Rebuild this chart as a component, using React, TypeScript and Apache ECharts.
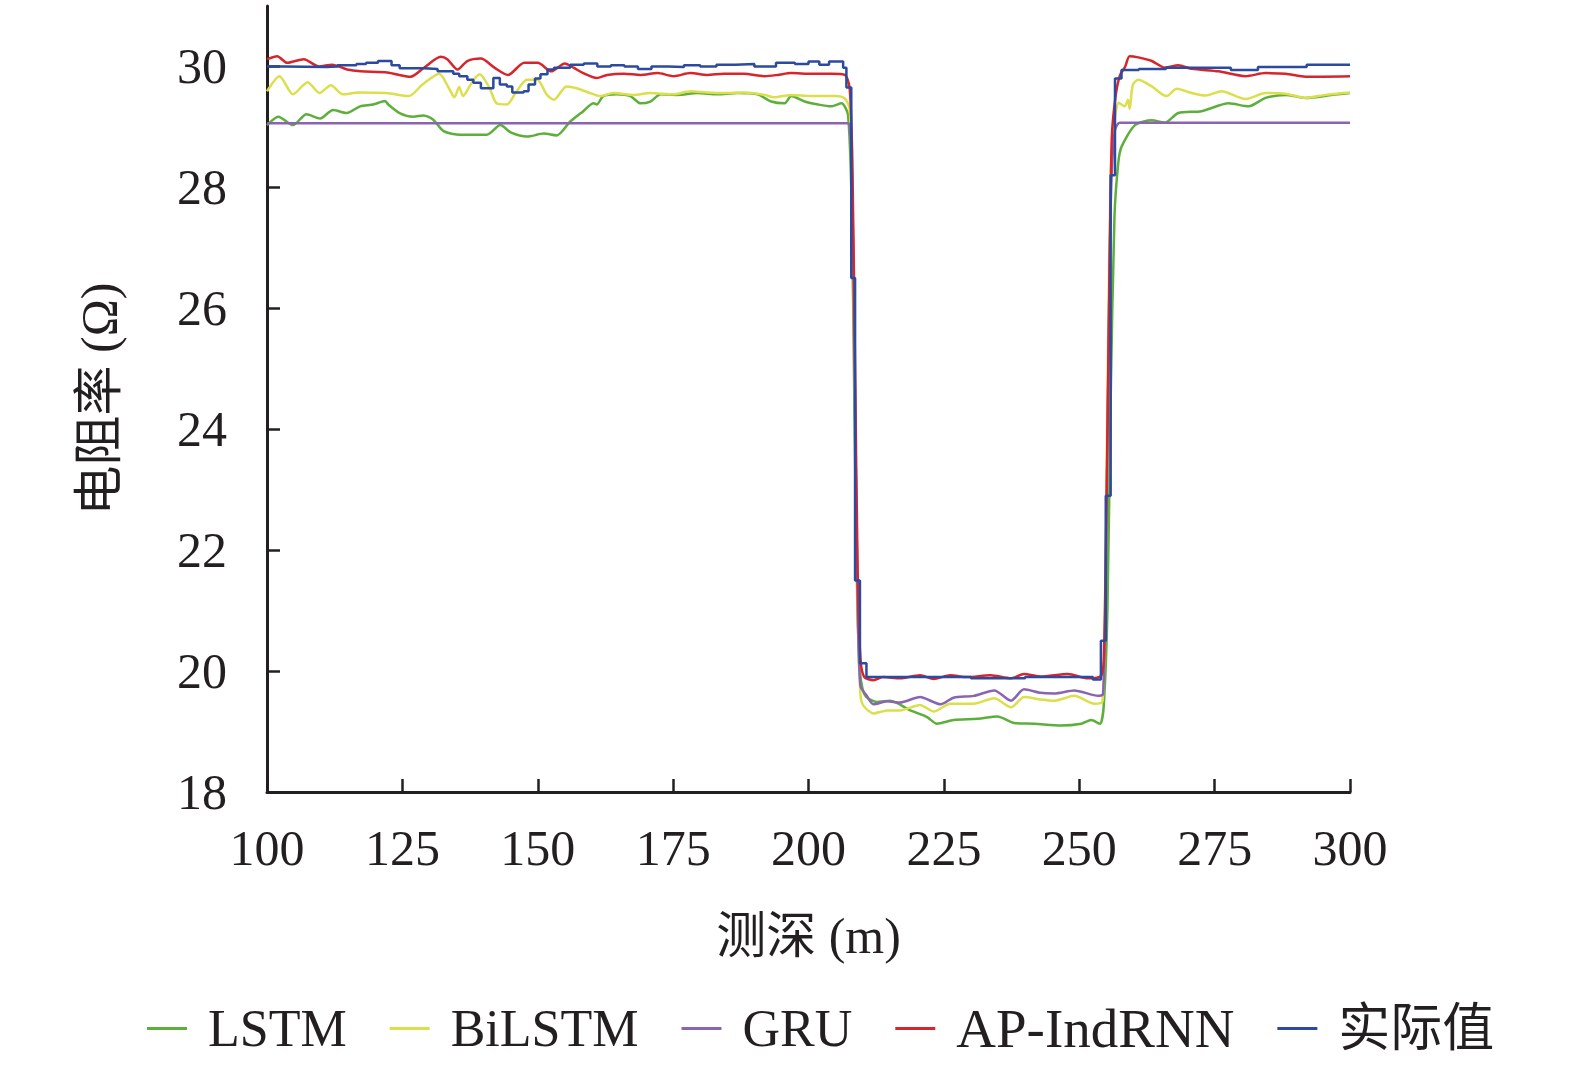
import React, { useEffect, useRef } from "react";
import * as echarts from "echarts";

const xTicks = [100, 125, 150, 175, 200, 225, 250, 275, 300];
const yTicks = [18, 20, 22, 24, 26, 28, 30];

const lstmDepth = [100, 102.1, 104.8, 107.3, 109.8, 112.2, 114.7, 117.2, 119.6, 121.8, 122.4, 124.5, 127, 128.9, 130.7, 132.6, 135.7, 140.6, 143.1, 145, 148, 151.1, 153.5, 156, 158.4, 160.3, 160.9, 162.1, 164.6, 167.1, 169, 170.8, 172.7, 175.8, 179.5, 183.2, 186.9, 190.6, 193.1, 195.6, 196.8, 199.3, 201.8, 204.2, 206.1, 207.3, 208.0, 208.5, 209.0, 209.5, 210.0, 210.7, 212.6, 215.1, 218.8, 221.9, 223.7, 226.8, 231.2, 234.9, 238, 241.7, 246.6, 250.4, 252.2, 253.8, 254.5, 255.2, 255.8, 256.5, 257.2, 257.8, 260.3, 263.4, 265.8, 268.3, 272.6, 277.6, 281.3, 284.4, 288.1, 291.8, 296.8, 300];
const lstmValue = [29.03, 29.17, 29.03, 29.21, 29.14, 29.28, 29.23, 29.34, 29.37, 29.43, 29.37, 29.23, 29.17, 29.19, 29.12, 28.93, 28.87, 28.87, 29.03, 28.91, 28.84, 28.89, 28.86, 29.09, 29.26, 29.39, 29.37, 29.51, 29.54, 29.51, 29.39, 29.42, 29.54, 29.53, 29.56, 29.54, 29.56, 29.54, 29.42, 29.39, 29.51, 29.42, 29.37, 29.34, 29.39, 29.2, 27.6, 24.2, 21.2, 20.0, 19.7, 19.57, 19.49, 19.51, 19.35, 19.24, 19.13, 19.19, 19.21, 19.25, 19.14, 19.13, 19.1, 19.13, 19.19, 19.13, 19.4, 21.0, 24.5, 27.5, 28.4, 28.67, 29.03, 29.11, 29.07, 29.23, 29.26, 29.39, 29.34, 29.48, 29.53, 29.48, 29.53, 29.56];

const bilstmDepth = [100, 102.3, 104.8, 107.5, 109.7, 111.8, 114, 117, 122, 126.2, 128.7, 131.8, 133.6, 134.6, 135.5, 136.2, 138, 139.3, 141.1, 142.4, 144.3, 146.1, 148, 149.9, 151.7, 153, 155.3, 157.2, 159.7, 161.5, 164, 167.7, 170.8, 175.1, 178.2, 181.3, 184.4, 188.1, 191.9, 193.7, 196.8, 200.5, 204.9, 206.7, 207.6, 208.1, 208.6, 209.1, 209.6, 210.2, 212, 214.5, 216.9, 220.6, 223.1, 226.2, 230.5, 234.3, 237.4, 239.8, 242.9, 245.4, 249.1, 252.8, 254.3, 254.8, 255.3, 255.8, 256.5, 257.3, 258.4, 259.0, 259.3, 259.9, 260.9, 263.4, 266.1, 268, 270.8, 273.3, 276.3, 280.7, 284.4, 288.1, 291.8, 295.5, 300];
const bilstmValue = [29.59, 29.84, 29.54, 29.74, 29.56, 29.69, 29.54, 29.57, 29.56, 29.51, 29.7, 29.88, 29.64, 29.49, 29.66, 29.51, 29.76, 29.87, 29.64, 29.39, 29.37, 29.59, 29.78, 29.78, 29.53, 29.45, 29.67, 29.64, 29.56, 29.51, 29.56, 29.53, 29.56, 29.54, 29.59, 29.57, 29.56, 29.57, 29.53, 29.49, 29.53, 29.51, 29.51, 29.47, 29.3, 27.9, 24.4, 20.9, 19.6, 19.42, 19.3, 19.35, 19.35, 19.44, 19.33, 19.46, 19.46, 19.55, 19.4, 19.57, 19.53, 19.51, 19.59, 19.46, 19.5, 21.5, 25.2, 28.2, 29.1, 29.4, 29.34, 29.45, 29.3, 29.7, 29.78, 29.67, 29.51, 29.63, 29.56, 29.52, 29.59, 29.46, 29.56, 29.55, 29.48, 29.53, 29.57];

const gruDepth = [100, 207.3, 207.7, 208.1, 208.6, 209.1, 209.6, 210.7, 212, 214.5, 216.9, 220.6, 224.4, 226.8, 230.5, 234.3, 237.4, 239.8, 242.9, 245.4, 249.1, 253.5, 254.4, 254.9, 255.4, 255.9, 256.6, 257.5, 300];
const gruValue = [29.06, 29.06, 28.9, 27.9, 24.4, 21.0, 19.75, 19.6, 19.45, 19.5, 19.48, 19.57, 19.45, 19.56, 19.59, 19.68, 19.51, 19.7, 19.64, 19.63, 19.68, 19.59, 19.62, 21.6, 25.2, 28.0, 28.95, 29.07, 29.07];

const apDepth = [100, 101.9, 103.7, 106.8, 109.6, 112, 114.8, 117.3, 122.2, 126.5, 129, 132.1, 133.3, 135.2, 137, 139.5, 142, 144.5, 147.5, 150, 152.5, 155, 156.6, 158.4, 160.9, 162.8, 165.9, 169, 172.1, 175.1, 178.2, 181.3, 184.4, 188.1, 191.9, 194.3, 196.8, 200.5, 204.2, 206.7, 207.6, 208.1, 208.6, 209.1, 209.6, 210.3, 212, 213.8, 216.9, 220.6, 223.1, 226.2, 229.3, 233.6, 237.4, 239.8, 242.9, 247.9, 251.6, 254.1, 254.6, 255.0, 255.5, 256.0, 256.7, 257.5, 258.5, 259.3, 260.9, 263.4, 265.8, 268.3, 270.8, 275.7, 280.7, 284.4, 288.1, 291.8, 300];
const apValue = [30.12, 30.17, 30.06, 30.12, 30.0, 30.03, 29.95, 29.92, 29.9, 29.83, 29.98, 30.16, 30.12, 29.95, 30.09, 30.13, 29.98, 29.86, 30.06, 30.06, 29.92, 30.05, 29.98, 29.89, 29.81, 29.86, 29.88, 29.86, 29.89, 29.84, 29.89, 29.86, 29.88, 29.88, 29.84, 29.86, 29.89, 29.88, 29.88, 29.86, 29.64, 28.4, 25.0, 21.5, 20.2, 19.9, 19.85, 19.9, 19.88, 19.93, 19.87, 19.93, 19.9, 19.93, 19.88, 19.95, 19.91, 19.95, 19.88, 19.93, 20.4, 22.5, 26.0, 28.8, 29.5, 29.85, 30.0, 30.17, 30.15, 30.09, 29.98, 30.02, 29.96, 29.92, 29.84, 29.89, 29.88, 29.83, 29.84];

const actualDepth = [100, 103, 111, 113, 116.5, 118.3, 120.5, 123, 124.5, 129, 131.5, 134.4, 135.5, 137, 138.1, 139.5, 141.8, 143, 144.3, 145.3, 147.4, 148.3, 149.5, 150.5, 151.8, 153, 156, 158.5, 161, 163.5, 166, 168.5, 171, 174, 177, 180, 183, 186.5, 190, 194, 197.5, 200, 202, 203.8, 206.4, 207.0, 207.9, 208.6, 209.5, 210.7, 230, 240, 252.5, 254.0, 254.9, 255.8, 256.6, 257.8, 261, 266, 278, 283, 292, 300];
const actualValue = [30.0, 29.99, 30.0, 30.02, 30.04, 30.06, 30.09, 30.02, 29.97, 29.96, 29.92, 29.88, 29.84, 29.78, 29.73, 29.64, 29.81, 29.7, 29.67, 29.57, 29.59, 29.7, 29.8, 29.87, 29.95, 29.98, 30.03, 30.05, 30.0, 30.02, 30.0, 29.96, 30.0, 29.99, 30.02, 30.0, 30.03, 30.04, 30.0, 30.06, 30.04, 30.08, 30.03, 30.08, 29.98, 29.65, 26.5, 21.5, 20.13, 19.9, 19.88, 19.9, 19.86, 20.5, 22.9, 28.2, 29.8, 29.94, 29.96, 29.98, 29.94, 29.99, 30.03, 30.02];

const seriesNames = ["LSTM", "BiLSTM", "GRU", "AP-IndRNN", "实际值"];
const seriesColors = ["#5daf3b", "#dcdf4c", "#8b63b3", "#d7252c", "#2b4aa0"];

const FONT = '"Liberation Serif", "Times New Roman", "Noto Sans CJK SC", serif';
const INK = "#231f20";

function pairs(d: number[], v: number[]) {
  return d.map((x, i) => [x, v[i]]);
}

export default function App() {
  const ref = useRef<HTMLDivElement>(null);
  useEffect(() => {
    if (!ref.current) return;
    const chart = echarts.init(ref.current, undefined, { renderer: "svg" });
    const dataSets = [
      pairs(lstmDepth, lstmValue),
      pairs(bilstmDepth, bilstmValue),
      pairs(gruDepth, gruValue),
      pairs(apDepth, apValue),
      pairs(actualDepth, actualValue),
    ];
    chart.setOption({
      animation: false,
      backgroundColor: "#ffffff",
      grid: { left: 267, right: 225, top: 6, bottom: 275, containLabel: false },
      xAxis: {
        type: "value",
        min: 100,
        max: 300,
        interval: 25,
        name: "测深 (m)",
        nameLocation: "middle",
        nameGap: 119,
        nameTextStyle: { fontFamily: FONT, fontSize: 50, color: INK },
        axisLine: { show: true, lineStyle: { color: INK, width: 3 } },
        axisTick: { show: true, inside: true, length: 13, lineStyle: { color: INK, width: 2.5 } },
        axisLabel: {
          fontFamily: FONT,
          fontSize: 50,
          color: INK,
          margin: 31,
          customValues: xTicks,
        },
        splitLine: { show: false },
      },
      yAxis: {
        type: "value",
        min: 18,
        max: 31,
        interval: 2,
        name: "电阻率 (Ω)",
        nameLocation: "middle",
        nameGap: 143,
        nameTextStyle: { fontFamily: FONT, fontSize: 50, color: INK },
        axisLine: { show: true, lineStyle: { color: INK, width: 3 } },
        axisTick: {
          show: true,
          inside: true,
          length: 13,
          lineStyle: { color: INK, width: 2.5 },
          customValues: yTicks,
        },
        axisLabel: {
          fontFamily: FONT,
          fontSize: 50,
          color: INK,
          margin: 40,
          customValues: yTicks,
        },
        splitLine: { show: false },
      },
      legend: {
        left: 142,
        top: 996,
        icon: "rect",
        itemWidth: 40,
        itemHeight: 3,
        itemGap: 43,
        textStyle: { fontFamily: FONT, fontSize: 52, color: INK, padding: [0, 0, 0, 16] },
        data: seriesNames.map((name) =>
          name === "AP-IndRNN"
            ? { name, textStyle: { fontSize: 55 } }
            : { name }
        ),
      },
      series: seriesNames.map((name, i) => ({
        name,
        type: "line",
        data: dataSets[i],
        showSymbol: false,
        symbol: "none",
        smooth: i === 4 ? false : 0.25,
        step: i === 4 ? "end" : false,
        lineStyle: { color: seriesColors[i], width: 2.5 },
        itemStyle: { color: seriesColors[i] },
        z: i + 2,
      })),
    });
    return () => chart.dispose();
  }, []);
  return (
    <div
      ref={ref}
      style={{ position: "fixed", left: 0, top: 0, width: 1575, height: 1067 }}
    />
  );
}
